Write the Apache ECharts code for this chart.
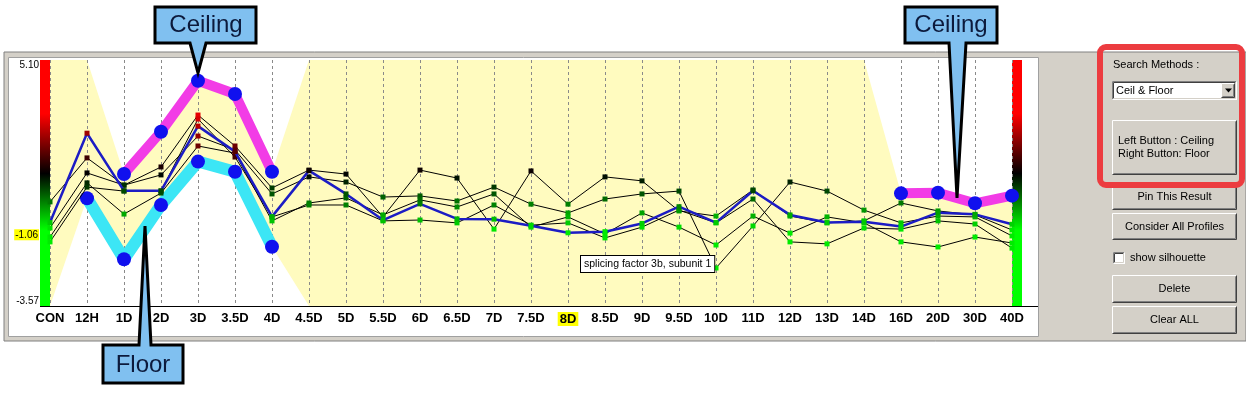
<!DOCTYPE html>
<html><head><meta charset="utf-8">
<script src="https://cdn.jsdelivr.net/npm/echarts@6/dist/echarts.min.js"></script>
<style>html,body{margin:0;padding:0;background:#fff}#c{width:1246px;height:395px}</style>
</head><body><div id="c"></div>
<script>
// ---------- data ----------
const categories = ['CON','12H','1D','2D','3D','3.5D','4D','4.5D','5D','5.5D','6D','6.5D','7D','7.5D','8D','8.5D','9D','9.5D','10D','11D','12D','13D','14D','16D','20D','30D','40D'];
const selectedProfile = [-0.63, 2.52, 0.49, 0.49, 2.77, 1.87, -0.42, 1.20, 0.38, -0.54, 0.03, -0.50, -0.51, -0.74, -0.99, -0.95, -0.66, -0.07, -0.63, 0.49, -0.36, -0.63, -0.60, -0.77, -0.28, -0.34, -0.69];
const profileA = [0.10, 1.65, 0.69, 1.33, 3.16, 2.07, 0.59, 1.22, 1.08, -0.43, 1.22, 0.94, -0.86, 1.19, 0.02, 0.98, 0.84, -0.22, -0.40, 0.52, -0.40, -0.64, -0.57, 0.06, -0.22, -0.36, -0.89];
const profileB = [-0.82, 1.12, 0.69, 1.05, 2.42, 1.93, 0.38, 0.98, 0.80, 0.27, 0.31, 0.13, 0.62, 0.02, -0.29, 0.20, 0.38, 0.48, -2.23, -0.75, 0.80, 0.48, -0.19, -0.64, -0.40, -0.43, -1.10];
const profileC = [-1.14, 0.77, -0.33, 0.41, 2.07, 1.82, -0.57, 0.06, 0.24, -0.36, 0.17, -0.08, 0.38, -0.79, -0.43, -1.03, -0.29, -0.79, -1.42, -0.40, -1.00, -0.43, -0.64, -1.31, -1.49, -1.14, -1.35];
const profileD = [-1.31, 0.62, 0.48, 0.48, 3.02, 1.68, -0.43, -0.01, -0.01, -0.57, -0.54, -0.64, -0.01, -0.72, -0.64, -1.17, -0.79, -0.19, -0.64, 0.20, -1.31, -1.38, -0.82, -0.86, -0.57, -0.68, -1.53];
const ceiling = [null, null, 1.08, 2.57, 4.37, 3.90, 1.16, null, null, null, null, null, null, null, null, null, null, null, null, null, null, null, null, 0.40, 0.42, 0.05, 0.32];
const floor = [null, 0.23, -1.92, -0.01, 1.52, 1.16, -1.48, null, null, null, null, null, null, null, null, null, null, null, null, null, null, null, null, null, null, null, null];
const Y_MIN = -3.57, Y_MAX = 5.10;
const yTickValues = [-3.57, -1.06, 5.10];
const highlightedValue = -1.06;
const highlightedCategory = '8D';
const profileName = 'splicing factor 3b, subunit 1';

// ---------- styles ----------
const FONT = '"Liberation Sans", Arial, sans-serif';
const COL_HI = 3.2, COL_MID = 1.1, COL_LO = -0.9;
function valueColor(v) {
  if (v >= COL_MID) { const t = Math.min(1, (v - COL_MID) / (COL_HI - COL_MID)); return 'rgb(' + Math.round(235 * t) + ',0,0)'; }
  const t = Math.min(1, (COL_MID - v) / (COL_MID - COL_LO)); return 'rgb(0,' + Math.round(235 * t) + ',0)';
}
const G = {left: 50, top: 60, width: 962, height: 246};
const off = v => (Y_MAX - v) / (Y_MAX - Y_MIN);
const barGradient = {type: 'linear', x: 0, y: 0, x2: 0, y2: 1, colorStops: [
  {offset: 0, color: '#ff0000'}, {offset: off(COL_HI), color: '#ff0000'},
  {offset: off(COL_MID), color: '#000000'}, {offset: off(COL_LO), color: '#00ff00'}, {offset: 1, color: '#00ff00'}]};

function txt(x, y, s, extra, z) {
  const st = Object.assign({x: x, y: y, text: s, font: '11px ' + FONT, fill: '#000', align: 'left', textAlign: 'left', verticalAlign: 'middle', textVerticalAlign: 'middle'}, extra || {});
  return {type: 'text', z: z || 42, style: st};
}
function bevel(x, y, w, h, raised, z) {
  const tl = raised ? '#ffffff' : '#808080', br = raised ? '#404040' : '#ffffff', br2 = raised ? '#808080' : '#d4d0c8', tl2 = raised ? '#d4d0c8' : '#404040';
  return [
    {type: 'rect', z: z, shape: {x: x, y: y, width: w, height: h}, style: {fill: raised ? '#d4d0c8' : '#ffffff'}},
    {type: 'polyline', z: z + 1, shape: {points: [[x + 0.5, y + h - 0.5], [x + 0.5, y + 0.5], [x + w - 0.5, y + 0.5]]}, style: {stroke: tl, lineWidth: 1, fill: 'none'}},
    {type: 'polyline', z: z + 1, shape: {points: [[x + 1.5, y + h - 1.5], [x + 1.5, y + 1.5], [x + w - 1.5, y + 1.5]]}, style: {stroke: tl2, lineWidth: 1, fill: 'none'}},
    {type: 'polyline', z: z + 1, shape: {points: [[x + 0.5, y + h - 0.5], [x + w - 0.5, y + h - 0.5], [x + w - 0.5, y + 0.5]]}, style: {stroke: br, lineWidth: 1, fill: 'none'}},
    {type: 'polyline', z: z + 1, shape: {points: [[x + 1.5, y + h - 1.5], [x + w - 1.5, y + h - 1.5], [x + w - 1.5, y + 1.5]]}, style: {stroke: br2, lineWidth: 1, fill: 'none'}}
  ];
}
function button(x, y, w, h, label) {
  return bevel(x, y, w, h, true, 30).concat([txt(x + w / 2, y + h / 2, label, {align: 'center', textAlign: 'center'})]);
}
const calloutStyle = {fill: '#80c0f0', stroke: '#000', lineWidth: 3, lineJoin: 'miter'};
const calloutText = {font: '24px ' + FONT, fill: '#0c1a3c', align: 'center', textAlign: 'center'};

const graphics = [].concat(
  [
    {type: 'rect', z: -20, shape: {x: 4, y: 52, width: 1242, height: 289}, style: {fill: '#d4d0c8', stroke: '#808080', lineWidth: 1}},
    {type: 'rect', z: -19, shape: {x: 8.5, y: 57.5, width: 1030, height: 279}, style: {fill: '#ffffff', stroke: '#a0a0a0', lineWidth: 1}},
    {type: 'rect', z: -5, shape: {x: 40, y: G.top, width: 10, height: G.height}, style: {fill: barGradient}},
    {type: 'rect', z: -5, shape: {x: 1012, y: G.top, width: 10, height: G.height}, style: {fill: barGradient}},
    {type: 'line', z: 10, shape: {x1: 40, y1: 306.5, x2: 1038, y2: 306.5}, style: {stroke: '#000', lineWidth: 1}},
    {type: 'text', z: 20, style: {x: 581, y: 256, text: profileName, font: '10.5px ' + FONT, fill: '#000', backgroundColor: '#fff', borderColor: '#000', borderWidth: 1, padding: [3, 3, 2, 3]}},
    // callouts
    {type: 'polygon', z: 50, shape: {points: [[155, 7], [256, 7], [256, 43], [206, 43], [198, 73], [190, 43], [155, 43]]}, style: calloutStyle},
    txt(206, 25, 'Ceiling', calloutText, 60),
    {type: 'polygon', z: 50, shape: {points: [[905, 7], [997, 7], [997, 43], [966, 43], [957, 198], [949, 43], [905, 43]]}, style: calloutStyle},
    txt(951, 25, 'Ceiling', calloutText, 60),
    {type: 'polygon', z: 50, shape: {points: [[103, 345], [139, 345], [145, 226], [151, 345], [183, 345], [183, 383], [103, 383]]}, style: calloutStyle},
    txt(143, 365, 'Floor', calloutText, 60),
    // right panel
    txt(1113, 65, 'Search Methods :'),
  ],
  bevel(1112, 81, 125, 19, false, 30),
  [txt(1116, 91, 'Ceil & Floor')],
  bevel(1221, 83, 14, 15, true, 33),
  [{type: 'polygon', z: 40, shape: {points: [[1225, 88.5], [1232, 88.5], [1228.5, 92.5]]}, style: {fill: '#000'}}],
  bevel(1112, 120, 125, 55, true, 30),
  [txt(1118, 141, 'Left Button : Ceiling'), txt(1118, 154, 'Right Button: Floor')],
  button(1112, 184, 125, 26, 'Pin This Result'),
  button(1112, 213, 125, 27, 'Consider All Profiles'),
  bevel(1113, 252, 12, 12, false, 30),
  [txt(1130, 258, 'show silhouette')],
  button(1112, 275, 125, 28, 'Delete'),
  button(1112, 306, 125, 28, 'Clear ALL'),
  [{type: 'rect', z: 45, shape: {x: 1100, y: 47, width: 142, height: 138, r: 6}, style: {fill: 'none', stroke: '#ec3c40', lineWidth: 6}}]
);

function profileSeries(data, blue) {
  return {
    type: 'line', data: data, z: blue ? 6 : 5, silent: true,
    symbol: 'rect', symbolSize: 5, showSymbol: true, showAllSymbol: true,
    lineStyle: {color: blue ? '#1c1cc4' : '#000', width: blue ? 2.5 : 1},
    itemStyle: {color: p => valueColor(p.value)},
    emphasis: {disabled: true}
  };
}
function boundSeries(data, color, width) {
  return {
    type: 'line', data: data, z: 4, silent: true, connectNulls: false,
    symbol: 'circle', symbolSize: 14, showSymbol: true, showAllSymbol: true,
    lineStyle: {color: color, width: width, cap: 'round', join: 'round'},
    itemStyle: {color: '#1010ee'},
    emphasis: {disabled: true}
  };
}

const chart = echarts.init(document.getElementById('c'), null, {renderer: 'canvas'});
chart.setOption({
  animation: false,
  grid: {left: G.left, top: G.top, width: G.width, height: G.height},
  xAxis: {
    type: 'category', data: categories, boundaryGap: false, z: 1,
    axisLine: {show: false}, axisTick: {show: false},
    axisLabel: {
      interval: 0, margin: 6, color: '#000', fontFamily: FONT, fontWeight: 'bold', fontSize: 13,
      formatter: c => c === highlightedCategory ? '{hl|' + c + '}' : c,
      rich: {hl: {backgroundColor: '#ffff00', color: '#000', fontFamily: FONT, fontWeight: 'bold', fontSize: 13, padding: [1, 2, 0, 2]}}
    },
    splitLine: {show: true, interval: 0, lineStyle: {color: '#8a8a8a', type: [3, 3], width: 1}}
  },
  yAxis: {
    type: 'value', min: Y_MIN, max: Y_MAX,
    axisLine: {show: false}, axisTick: {show: false}, splitLine: {show: false},
    axisLabel: {
      customValues: yTickValues, margin: 11, color: '#000', fontFamily: FONT, fontSize: 10,
      verticalAlignMinLabel: 'bottom', verticalAlignMaxLabel: 'top',
      formatter: v => Math.abs(v - highlightedValue) < 1e-6 ? '{hl|' + v.toFixed(2) + '}' : v.toFixed(2),
      rich: {hl: {backgroundColor: '#ffff00', color: '#000', fontFamily: FONT, fontSize: 10, padding: [1, 1, 0, 1]}}
    }
  },
  series: [
    {
      type: 'custom', z: 0, silent: true, data: [0],
      renderItem: (params, api) => {
        const top = [], bot = [];
        for (let i = 0; i < categories.length; i++) {
          top.push(api.coord([i, ceiling[i] == null ? Y_MAX : ceiling[i]]));
          bot.push(api.coord([i, floor[i] == null ? Y_MIN : floor[i]]));
        }
        return {type: 'polygon', shape: {points: top.concat(bot.reverse())}, style: {fill: '#fffbbf'}};
      }
    },
    boundSeries(ceiling, '#f23ce6', 10),
    boundSeries(floor, '#3ce6f5', 12),
    profileSeries(profileA, false),
    profileSeries(profileB, false),
    profileSeries(profileC, false),
    profileSeries(profileD, false),
    profileSeries(selectedProfile, true)
  ],
  graphic: {elements: graphics}
});
</script></body></html>
